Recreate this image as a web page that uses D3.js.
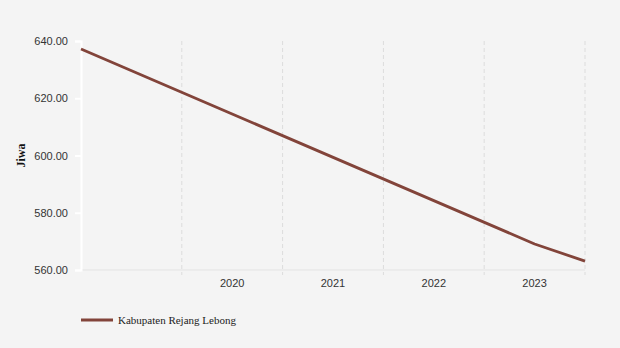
<!DOCTYPE html>
<html>
<head>
<meta charset="utf-8">
<script src="https://cdn.jsdelivr.net/npm/d3@7"></script>
<style>
  body { margin: 0; background: #f4f4f4; }
  svg { display: block; }
  .axis text { font-family: 'Liberation Sans', Arial, sans-serif; font-size: 11px; fill: #333; }
</style>
</head>
<body>
<svg id="chart" width="620" height="348"></svg>
<script>
// data
const seriesName = 'Kabupaten Rejang Lebong'
const years = [2018.5, 2023, 2023.5]
const values = [637.2, 569.1, 563.1]
const yTicks = [560, 580, 600, 620, 640]
const xLabels = [2020, 2021, 2022, 2023]
const xGrid = [2019.5, 2020.5, 2021.5, 2022.5, 2023.5]

const width = 620
const height = 348
const marginLeft = 81
const marginRight = 35
const marginTop = 41
const marginBottom = 78
const lineColor = '#82443a'

const svg = d3.select('#chart')
const w = width - marginLeft - marginRight
const h = height - marginTop - marginBottom

const x = d3.scaleLinear().domain([2018.5, 2023.5]).range([0, w])
const y = d3.scaleLinear().domain([560, 640]).range([h, 0])

const g = svg.append('g').attr('transform', `translate(${marginLeft} ${marginTop})`)

// vertical dashed grid
g.append('g')
  .selectAll('line')
  .data(xGrid)
  .join('line')
  .attr('x1', (d) => x(d))
  .attr('x2', (d) => x(d))
  .attr('y1', 0)
  .attr('y2', h + 5)
  .attr('stroke', '#dcdcdc')
  .attr('stroke-width', 1)
  .attr('stroke-dasharray', '4,3')

// x axis baseline
g.append('line')
  .attr('x1', 0)
  .attr('x2', w)
  .attr('y1', h)
  .attr('y2', h)
  .attr('stroke', '#e3e3e3')
  .attr('stroke-width', 1)

// x labels
g.append('g')
  .classed('axis', true)
  .selectAll('text')
  .data(xLabels)
  .join('text')
  .attr('x', (d) => x(d))
  .attr('y', h + 17)
  .attr('text-anchor', 'middle')
  .text((d) => d)

// y axis
const yAxis = g.append('g')
  .classed('axis', true)
  .call(d3.axisLeft(y).tickValues(yTicks).tickFormat(d3.format('.2f')).tickSize(6).tickPadding(7))
yAxis.select('.domain').attr('stroke', '#ffffff').attr('stroke-width', 2)
yAxis.selectAll('.tick line').attr('stroke', '#ffffff').attr('stroke-width', 2)
yAxis.selectAll('.tick text').attr('dy', '0.32em')

// y title
svg.append('text')
  .attr('transform', `translate(25 ${marginTop + h / 2}) rotate(-90)`)
  .attr('text-anchor', 'middle')
  .attr('font-family', "'Liberation Serif', 'Times New Roman', serif")
  .attr('font-weight', 'bold')
  .attr('font-size', 12)
  .attr('fill', '#111')
  .text('Jiwa')

// line
const line = d3.line()
  .x((d, i) => x(years[i]))
  .y((d) => y(d))

g.append('path')
  .datum(values)
  .attr('fill', 'none')
  .attr('stroke', lineColor)
  .attr('stroke-width', 2.8)
  .attr('stroke-linejoin', 'round')
  .attr('d', line)

// legend
const legend = svg.append('g').attr('transform', 'translate(81 320)')
legend.append('line')
  .attr('x1', 0)
  .attr('x2', 32)
  .attr('stroke', lineColor)
  .attr('stroke-width', 3)
legend.append('text')
  .attr('x', 37)
  .attr('y', 4)
  .attr('font-family', "'Liberation Serif', 'Times New Roman', serif")
  .attr('font-size', 11)
  .attr('fill', '#222')
  .text(seriesName)
</script>
</body>
</html>
